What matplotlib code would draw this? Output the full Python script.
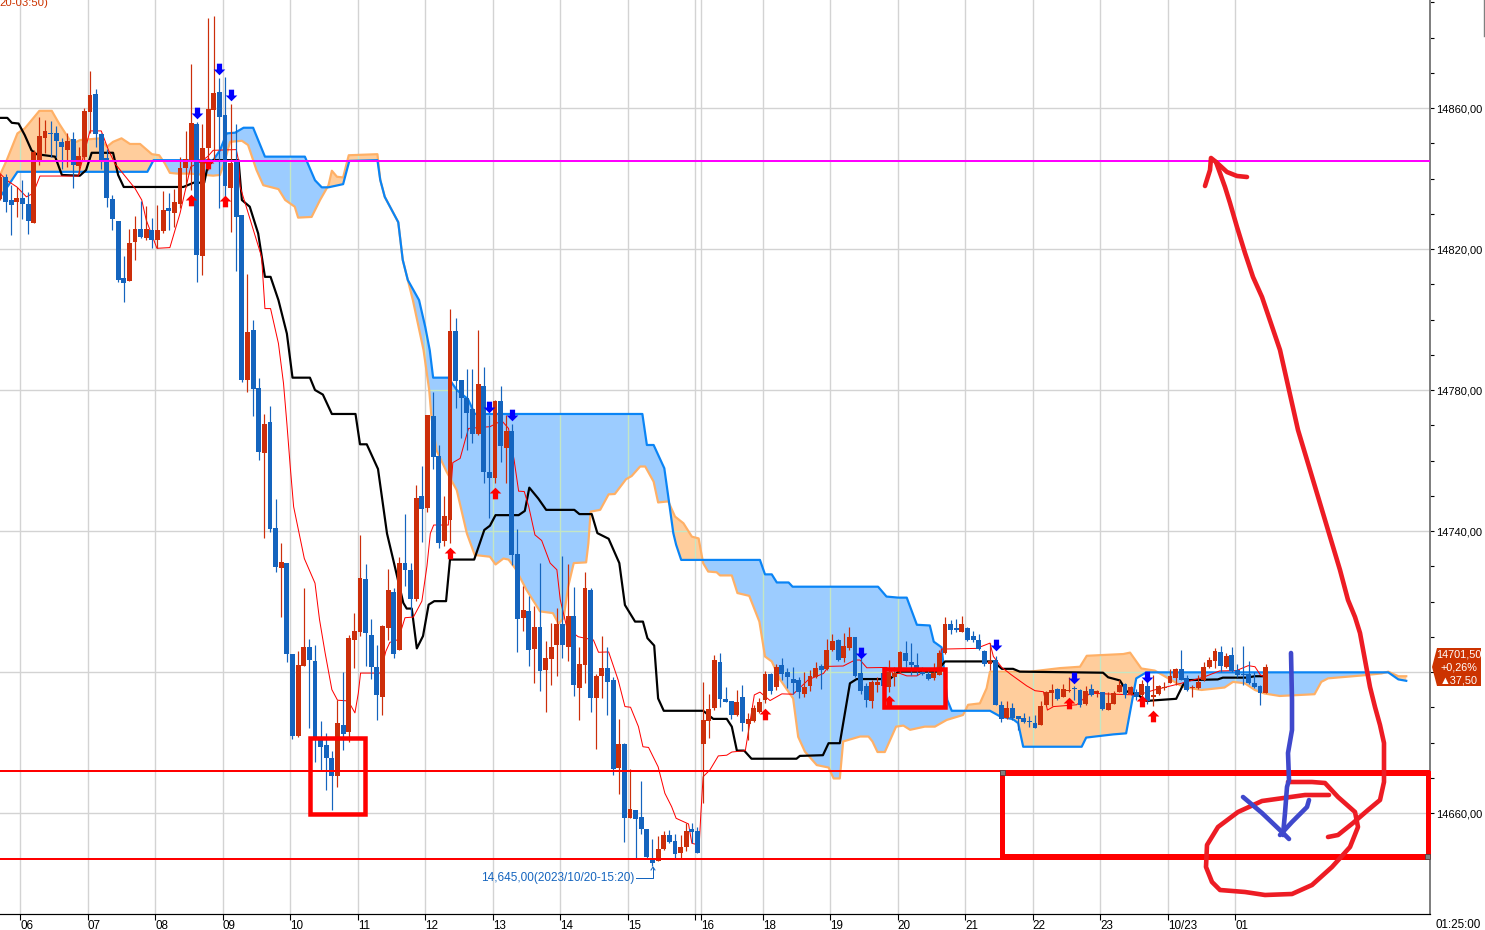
#!/usr/bin/env python3
"""5-min futures chart with ichimoku cloud and hand-drawn notes on top."""

import matplotlib
matplotlib.use("Agg")
import matplotlib.pyplot as plt
import numpy as np
from matplotlib.path import Path
from matplotlib.patches import Polygon, Rectangle

plt.rcParams["font.family"] = ["Liberation Sans", "DejaVu Sans"]

BASE = 14000  # all price lists below are offsets from this

direction = ("RBBRBBRRRB" "BBRBRRRBBB" "BBBRRBRBRR" "BRRRRBRRRB" "BRBBRBBRBB"
             "RBBRRBBBBB" "RBRRRBBBRR" "BRBBRBRBBR" "RBBBBRBBRB" "RBBRBRBRRR"
             "BRBRRBRRBB" "RBRBBBBRRB" "BRRBBRRRBB" "BRBRRRRBRB" "BBBRRRBRRB"
             "RRBBBRRBRR" "RBBBBBRRRB" "BRBBBBRBBR" "BBBBBRRRBR" "RBBRBRBRRR"
             "BRBRBRRRRR" "BBRRRRRBRB" "BBBBBR")

body_top = [
    840.5, 840.5, 833.9, 834.4, 834.4, 832.7, 847.6, 852.0, 853.4, 852.8,
    852.8, 850.3, 850.6, 851.2, 846.3, 859.1, 863.6, 863.9, 852.6, 845.7,
    834.1, 827.9, 811.9, 821.7, 825.6, 825.6, 825.8, 825.4, 825.4, 831.0,
    831.6, 833.3, 843.0, 845.4, 855.7, 855.4, 848.6, 859.7, 864.2, 864.5,
    858.0, 844.4, 844.6, 829.6, 796.5, 797.0, 780.7, 770.3, 770.9, 740.8,
    731.2, 730.9, 705.2, 702.1, 707.2, 707.2, 703.0, 680.8, 679.4, 675.7,
    685.4, 685.1, 709.7, 711.5, 726.8, 726.5, 710.6, 701.3, 713.0, 723.4,
    722.8, 731.0, 730.8, 728.9, 749.3, 749.9, 772.9, 772.6, 761.2, 744.2,
    796.7, 796.7, 782.8, 777.8, 774.6, 781.7, 781.1, 756.6, 776.8, 776.8,
    768.3, 768.3, 733.4, 717.7, 717.2, 712.9, 712.9, 704.0, 707.2, 713.5,
    713.7, 715.8, 715.8, 702.4, 723.7, 723.4, 699.0, 701.0, 701.2, 697.7,
    679.6, 679.6, 661.1, 660.8, 658.8, 655.4, 646.8, 649.8, 653.7, 653.7,
    652.1, 650.3, 654.9, 655.4, 654.9, 686.4, 689.5, 703.4, 702.8, 692.3,
    691.8, 691.5, 692.9, 686.7, 689.8, 691.5, 699.4, 699.4, 701.4, 702.0,
    700.0, 698.0, 697.7, 695.7, 698.9, 701.1, 701.7, 706.2, 708.8, 709.1,
    707.4, 709.9, 709.9, 699.6, 696.1, 697.2, 697.2, 699.6, 700.0, 699.6,
    705.7, 705.4, 702.9, 702.0, 700.0, 699.5, 699.7, 705.4, 713.6, 713.6,
    712.4, 713.6, 712.5, 710.2, 709.1, 706.0, 703.1, 703.4, 690.7, 689.8,
    689.8, 687.5, 686.9, 686.0, 685.6, 690.4, 694.4, 694.9, 695.2, 695.2,
    694.9, 695.3, 694.9, 694.6, 695.2, 694.6, 694.4, 691.2, 694.1, 696.3,
    696.6, 695.8, 694.4, 696.5, 696.0, 693.6, 696.0, 695.7, 698.8, 700.8,
    700.8, 698.2, 695.7, 697.1, 701.4, 703.4, 705.9, 705.6, 704.5, 704.8,
    700.5, 699.4, 699.4, 696.9, 696.0, 701.4]

body_bottom = [
    834.1, 833.4, 832.4, 833.3, 832.7, 827.9, 827.5, 845.0, 851.5, 852.6,
    850.6, 848.9, 848.1, 843.8, 843.5, 846.0, 858.9, 852.6, 845.2, 834.4,
    828.6, 811.2, 810.4, 810.9, 822.0, 823.4, 823.2, 822.5, 822.5, 825.1,
    830.7, 830.3, 832.7, 843.0, 845.2, 818.3, 818.0, 848.6, 859.5, 857.5,
    837.9, 837.4, 829.1, 782.8, 782.8, 780.3, 762.5, 762.2, 740.5, 729.9,
    729.6, 705.0, 681.8, 681.8, 701.6, 703.3, 680.8, 678.7, 675.7, 670.6,
    670.6, 682.5, 682.9, 709.2, 711.3, 711.1, 701.4, 693.4, 692.8, 712.6,
    705.2, 706.2, 728.9, 720.8, 720.8, 746.2, 746.6, 761.1, 736.7, 737.1,
    743.1, 782.5, 777.8, 773.5, 767.5, 767.5, 756.8, 755.1, 755.1, 764.2,
    763.6, 733.2, 714.9, 715.2, 706.2, 706.4, 700.2, 700.7, 703.8, 707.8,
    707.6, 707.2, 696.2, 695.6, 702.1, 692.5, 692.5, 698.8, 697.1, 672.5,
    672.9, 658.5, 658.7, 658.3, 655.4, 647.5, 645.9, 646.5, 649.8, 651.8,
    648.4, 648.6, 650.3, 654.7, 648.6, 679.6, 686.1, 689.8, 692.3, 691.5,
    687.8, 687.8, 685.5, 685.2, 686.1, 688.6, 692.0, 694.7, 695.7, 699.4,
    698.6, 696.9, 694.3, 693.7, 696.0, 698.6, 700.6, 700.8, 706.2, 703.4,
    704.0, 706.8, 698.9, 694.6, 692.1, 691.8, 696.3, 696.1, 695.7, 698.7,
    701.1, 703.1, 702.0, 700.3, 699.5, 698.0, 698.3, 699.2, 705.4, 711.9,
    711.9, 711.4, 709.1, 709.1, 706.5, 702.3, 702.3, 690.7, 686.6, 686.9,
    686.9, 686.8, 685.8, 685.7, 684.1, 685.0, 690.7, 694.1, 692.4, 692.9,
    694.7, 695.1, 690.7, 691.0, 693.5, 694.0, 689.5, 689.2, 691.0, 694.4,
    693.5, 693.8, 693.0, 693.5, 691.8, 693.0, 693.7, 695.4, 696.9, 698.2,
    697.7, 694.9, 695.4, 695.4, 697.7, 701.4, 703.1, 701.7, 701.4, 700.3,
    699.1, 699.2, 696.9, 695.7, 694.0, 694.0]

highs = [
    841.4, 841.4, 838.1, 837.6, 839.5, 836.2, 848.0, 857.5, 856.7, 856.4,
    854.9, 851.6, 852.8, 853.2, 849.0, 859.9, 870.5, 865.4, 852.8, 848.5,
    835.3, 827.9, 818.0, 825.8, 829.3, 833.6, 832.2, 828.7, 832.4, 836.5,
    836.0, 836.9, 846.0, 853.5, 872.4, 856.1, 855.6, 885.4, 886.1, 868.5,
    868.8, 861.1, 855.6, 829.6, 812.9, 799.8, 783.3, 773.3, 775.4, 749.2,
    736.5, 730.9, 705.2, 706.1, 723.7, 709.5, 707.8, 686.2, 682.7, 677.7,
    692.2, 700.0, 710.6, 716.6, 738.8, 730.5, 715.1, 707.8, 713.3, 729.3,
    723.9, 732.5, 744.8, 730.8, 753.0, 758.4, 772.9, 779.5, 764.4, 749.9,
    803.1, 800.3, 782.8, 786.1, 786.1, 797.0, 786.6, 772.9, 777.3, 781.1,
    772.9, 770.3, 740.5, 724.3, 721.5, 718.7, 730.8, 708.9, 713.9, 718.2,
    732.9, 730.5, 724.1, 707.1, 728.4, 723.9, 699.5, 710.3, 707.1, 698.7,
    686.8, 680.0, 672.4, 660.8, 669.2, 655.4, 652.5, 653.5, 654.9, 655.2,
    654.0, 653.7, 657.1, 657.1, 655.9, 697.2, 693.9, 704.8, 705.3, 695.8,
    691.8, 694.9, 696.3, 688.3, 690.6, 692.5, 700.4, 699.6, 702.4, 704.1,
    701.0, 701.5, 698.7, 700.1, 700.6, 702.9, 702.4, 709.5, 710.8, 709.5,
    711.0, 712.8, 709.9, 703.9, 697.0, 697.6, 698.7, 700.6, 703.4, 701.5,
    706.1, 708.8, 708.2, 705.3, 701.5, 700.6, 702.5, 706.3, 715.7, 714.8,
    715.0, 715.9, 712.9, 711.5, 710.8, 706.3, 708.2, 704.4, 691.9, 691.9,
    691.3, 687.5, 688.3, 687.4, 687.8, 691.8, 694.7, 696.6, 695.4, 696.6,
    698.5, 696.1, 695.1, 695.9, 696.6, 694.9, 694.4, 694.4, 694.5, 697.6,
    697.0, 696.1, 695.1, 697.7, 698.7, 699.1, 696.3, 697.2, 700.8, 701.0,
    706.2, 699.1, 696.3, 699.1, 702.9, 704.3, 706.9, 707.4, 705.3, 707.2,
    702.3, 707.4, 703.1, 700.1, 696.3, 702.2]

lows = [
    833.9, 830.6, 823.9, 829.1, 828.4, 824.2, 827.5, 843.8, 847.1, 846.2,
    846.0, 842.8, 843.3, 837.4, 841.4, 845.2, 852.8, 849.0, 842.8, 831.8,
    825.4, 810.7, 805.0, 810.9, 816.8, 823.0, 822.5, 820.2, 820.2, 824.4,
    825.4, 826.3, 831.5, 837.6, 836.7, 810.7, 812.6, 842.4, 845.2, 831.6,
    834.8, 824.9, 813.8, 782.3, 779.5, 772.7, 760.1, 738.1, 739.8, 728.4,
    715.6, 702.8, 681.0, 681.5, 701.6, 684.0, 674.5, 672.3, 666.5, 660.8,
    667.3, 677.8, 680.1, 701.0, 710.3, 701.6, 697.9, 686.3, 687.9, 709.2,
    704.0, 706.2, 724.3, 716.0, 720.1, 737.0, 745.5, 757.7, 735.1, 735.7,
    736.7, 774.8, 766.3, 763.1, 765.0, 767.2, 753.5, 743.8, 753.7, 759.6,
    753.7, 730.3, 705.6, 711.6, 701.8, 696.9, 694.5, 688.6, 696.2, 698.8,
    703.9, 703.1, 693.3, 686.5, 696.9, 688.6, 678.3, 692.5, 687.9, 670.8,
    665.4, 651.9, 658.5, 647.1, 654.0, 647.1, 645.0, 646.5, 649.5, 651.4,
    647.1, 647.1, 649.2, 651.4, 648.6, 662.7, 681.4, 689.2, 690.1, 691.5,
    686.8, 687.5, 683.2, 680.7, 685.9, 688.3, 691.1, 693.7, 694.9, 697.7,
    695.4, 693.9, 692.7, 693.0, 694.6, 698.2, 695.1, 700.6, 705.9, 703.1,
    702.9, 706.2, 698.7, 693.9, 690.0, 689.9, 694.2, 694.0, 694.4, 696.1,
    699.6, 701.5, 699.2, 699.2, 699.2, 697.6, 697.8, 699.2, 705.1, 710.8,
    711.4, 711.4, 708.9, 708.6, 706.3, 701.7, 700.6, 690.5, 685.7, 686.6,
    686.4, 683.6, 685.5, 684.3, 684.0, 685.0, 690.4, 690.4, 692.1, 692.8,
    694.4, 692.1, 690.2, 690.7, 693.2, 692.8, 689.1, 689.1, 690.9, 694.2,
    692.5, 693.5, 692.1, 692.0, 690.9, 690.3, 693.6, 695.0, 696.8, 696.3,
    697.7, 694.7, 693.0, 695.3, 697.5, 701.1, 701.0, 700.1, 701.1, 700.0,
    698.7, 696.3, 696.6, 695.6, 690.6, 694.0]

# ichimoku lines, read as (bar index, price offset) knots
senkou_b_x = [0, 1.3, 3.1, 26.2, 27.3, 37.9, 39.1, 40.3, 41.8, 43.3, 45, 47.1,
              54.2, 56, 57.2, 58.4, 61, 62.1, 67.1, 67.6, 68.4, 70.8, 71.6,
              72.5, 74.5, 75.6, 76.4, 77, 79.7, 81.2, 83.2, 84.4, 114.2, 115,
              116.2, 118.1, 118.8, 119.7, 120.2, 121.1, 135.1, 136, 137.2,
              138.1, 140.2, 140.9, 156.1, 157.6, 159.7, 161.2, 163, 165.3,
              166, 167.4, 168.4, 169.2, 176, 177.8, 180.1, 181, 181.9, 192.3,
              193.1, 197.9, 200.2, 202, 203.8, 246.8, 248.6, 250]
senkou_b = [834.8, 837.6, 841.9, 841.9, 845.2, 845.2, 848.0, 852.8, 853.0,
            854.4, 854.4, 846.2, 846.2, 839.5, 837.5, 837.5, 838.4, 845.0,
            845.2, 839.6, 834.8, 827.6, 816.9, 811.2, 805.5, 797.9, 791.3,
            783.5, 783.5, 780.0, 777.4, 773.2, 773.2, 764.4, 764.4, 757.8,
            749.8, 739.4, 736.1, 731.8, 731.8, 727.7, 727.7, 725.4, 725.4,
            724.2, 724.2, 721.4, 721.1, 721.1, 713.4, 713.2, 708.6, 707.0,
            692.1, 689.0, 689.0, 687.4, 686.6, 685.5, 678.8, 678.8, 681.4,
            682.3, 682.6, 698.2, 699.9, 699.9, 697.9, 697.5]

senkou_a_x = [0, 1.2, 3.1, 4.4, 7, 9.2, 10.5, 12.4, 13.6, 14.2, 17.8, 19, 20.1,
              21.6, 23.1, 24.9, 27, 28.3, 29.3, 30.2, 31.4, 33.8, 37.9, 39.1,
              40, 40.9, 43, 44.1, 45.6, 46.8, 49.5, 50.7, 52.4, 53, 55.4, 56.9,
              58.4, 59, 59.9, 61, 62, 67.1, 67.6, 68.4, 70.8, 71.6, 72.5, 73.4,
              75.3, 76.3, 76.7, 77.6, 79.4, 81.2, 83, 84.4, 87.1, 88.1, 89.5,
              90.4, 91.6, 93.6, 96, 98.3, 99.3, 100.2, 101, 102, 104.2, 104.6,
              105, 106.7, 108.2, 109.3, 111.3, 112.3, 113.8, 114.7, 116.2, 117,
              118.8, 120, 121.5, 123, 124.2, 125, 125.9, 127.4, 128, 130.1,
              131.1, 133.2, 135, 136, 137.2, 138.7, 141, 141.9, 143.1, 145.2,
              147.3, 148.2, 149.3, 149.9, 152.9, 154.4, 155.1, 156, 157.3,
              159.3, 160.6, 161.8, 164.4, 166.2, 168.3, 171.2, 172.1, 174.2,
              175.4, 176, 183.1, 188.4, 192, 193.2, 199.7, 200.9, 202.9, 205.3,
              207.7, 210.3, 213.6, 217.7, 219.2, 221.3, 223.1, 224.8, 227.5,
              233.7, 234.9, 236.1, 242, 245.6, 246.8, 248.6, 250]
senkou_a = [841.0, 845.2, 852.8, 854.2, 859.2, 859.2, 855.6, 850.9, 850.4,
            850.9, 851.4, 849.0, 850.4, 851.4, 849.8, 849.8, 846.9, 846.6,
            844.3, 841.6, 841.4, 841.4, 840.8, 841.0, 845.2, 850.4, 850.7,
            849.5, 842.4, 838.1, 837.0, 833.9, 832.0, 828.9, 829.1, 833.9,
            838.1, 842.2, 840.5, 840.3, 846.6, 846.9, 839.6, 834.8, 827.6,
            816.9, 811.2, 805.5, 791.3, 780.0, 772.4, 762.9, 756.8, 751.6,
            739.3, 733.2, 732.7, 730.5, 732.2, 731.9, 729.4, 723.3, 717.2,
            716.7, 713.7, 715.3, 724.2, 730.9, 731.1, 736.5, 745.5, 746.0,
            750.4, 750.5, 754.7, 755.6, 758.3, 758.3, 754.0, 748.1, 748.4,
            744.1, 742.2, 738.4, 737.9, 730.9, 728.5, 728.3, 727.4, 727.4,
            722.4, 721.6, 714.3, 704.4, 703.0, 697.8, 692.5, 681.6, 677.4,
            673.6, 672.9, 669.8, 669.8, 680.3, 681.7, 681.7, 680.3, 677.3,
            677.3, 684.5, 684.8, 683.6, 684.5, 684.5, 686.4, 687.8, 690.7,
            691.1, 695.4, 700.1, 700.1, 701.1, 701.5, 704.6, 705.1, 705.5,
            701.0, 700.4, 698.2, 695.8, 694.9, 695.6, 697.2, 696.8, 694.9,
            693.9, 693.2, 693.7, 697.2, 698.2, 699.0, 699.6, 700.1, 698.8,
            698.8]

kijun_x = [0, 1.3, 2.1, 3.3, 4.4, 5.6, 6.5, 9.8, 11, 14.2, 15.3, 16.3, 20.1, 21,
           22, 32.6, 34.4, 36.3, 36.9, 37.9, 42.4, 43, 44.4, 45.9, 47.1, 48.1,
           49.5, 51, 52, 55.1, 56, 57.4, 59, 63.2, 64, 65.2, 67.2, 68.8, 69.9,
           71.7, 72.3, 73.2, 74.1, 75.2, 76.2, 77.2, 79.3, 80, 84.3, 86.1,
           87.1, 88.1, 92.2, 93.3, 94.1, 95.7, 97.1, 102.1, 103, 105.2, 106.2,
           108.2, 110.1, 111.1, 112.9, 114.3, 115.1, 116.3, 117, 118, 125,
           126.8, 129.2, 130.1, 131, 132.3, 133.6, 141.6, 142.2, 146.3, 147.3,
           149.3, 151.1, 152.3, 158.2, 159.7, 166.5, 168, 176.6, 178.1, 180.1,
           181.3, 196.1, 197, 199.1, 200.3, 202.3, 203.8, 209.1, 210.3, 211.2,
           216.5, 217.4, 221.6, 223.1, 224.8]
kijun = [857.2, 857.2, 855.8, 855.6, 852.3, 848.0, 846.9, 846.2, 841.0, 840.8,
         842.4, 847.3, 847.3, 841.0, 837.6, 837.6, 838.8, 838.8, 843.3, 845.2,
         845.2, 833.9, 832.0, 824.4, 812.1, 812.1, 805.5, 796.0, 783.5, 783.5,
         780.0, 778.7, 773.2, 773.2, 764.6, 764.6, 757.6, 739.3, 731.9, 719.6,
         718.0, 718.0, 706.7, 710.2, 719.1, 720.1, 720.1, 731.9, 731.9, 740.3,
         741.5, 744.5, 744.5, 745.7, 752.3, 749.2, 746.0, 746.0, 744.8, 744.8,
         739.4, 737.8, 730.9, 719.0, 714.3, 714.3, 709.6, 707.5, 692.5, 689.0,
         689.0, 686.7, 686.7, 684.5, 677.7, 677.7, 675.4, 675.4, 676.2, 676.4,
         679.8, 679.8, 696.8, 698.0, 698.0, 700.1, 700.1, 703.0, 703.0, 700.9,
         700.9, 700.1, 699.8, 698.5, 697.6, 694.5, 693.5, 691.8, 692.4, 696.3,
         697.7, 697.9, 698.4, 698.4, 698.8, 698.8]

tenkan_x = [0, 1.2, 3, 4.7, 5.9, 7.1, 13.9, 16, 18, 19.3, 20.4, 24, 25.2, 26,
            27.9, 30.2, 32, 33.9, 35.6, 36.9, 37.9, 42, 42.4, 42.7, 46.5, 47.1,
            48.1, 49.5, 50.4, 51, 51.6, 52.2, 54.1, 56, 56.8, 57.8, 59, 60,
            61.9, 63.1, 63.7, 64.1, 67.6, 68.6, 69.3, 70.8, 72, 73.5, 75, 75.9,
            76.5, 77.1, 79.7, 80.5, 81.8, 82.7, 83.3, 87.1, 89.2, 90.4, 91.4,
            92.2, 93.2, 94, 95.1, 96.3, 97.8, 99, 99.6, 100.8, 102.8, 105.5,
            106.4, 108.2, 109.9, 111.1, 112.1, 113.5, 114.3, 115.3, 117, 118.2,
            119.4, 120.2, 122.4, 123, 124.3, 124.6, 125, 126.2, 127.7, 129.2,
            130.1, 132.5, 133.2, 134.1, 135.1, 136.9, 139, 141, 143.7, 146.4,
            147.3, 149.9, 152, 152.9, 154.1, 157.6, 158.8, 160, 161.2, 163,
            164.7, 166.5, 167.4, 170.7, 173.6, 176, 176.6, 178.1, 179.8, 182.5,
            184, 185.5, 186.2, 187.3, 191.4, 193.8, 197.9, 202.3, 205.2, 210,
            213.9, 216.8, 219.8, 221.9, 223.1, 224.1, 225]
tenkan = [841.4, 839.5, 837.6, 834.8, 835.8, 840.7, 840.7, 853.5, 853.5, 848.0,
          844.3, 837.2, 833.9, 828.2, 820.2, 820.4, 830.1, 843.3, 844.7, 846.2,
          848.0, 848.2, 845.2, 837.6, 817.8, 803.1, 803.1, 793.2, 781.9, 770.5,
          758.2, 746.9, 732.2, 725.2, 714.9, 705.4, 695.0, 692.0, 691.8, 688.4,
          694.0, 699.7, 699.7, 705.9, 708.4, 709.2, 715.4, 715.6, 720.1, 730.0,
          739.3, 741.7, 741.7, 759.4, 760.6, 765.8, 769.1, 769.6, 771.3, 769.1,
          760.1, 751.3, 751.2, 746.9, 738.9, 737.3, 730.9, 729.0, 720.5, 712.4,
          710.0, 709.1, 705.6, 705.7, 697.7, 690.2, 690.0, 684.5, 678.8, 678.6,
          673.1, 665.6, 661.8, 658.5, 656.9, 651.4, 650.9, 659.9, 670.3, 672.2,
          676.2, 676.4, 677.3, 677.7, 684.5, 693.5, 694.3, 691.9, 693.8, 693.7,
          697.8, 699.6, 701.6, 701.7, 703.4, 703.4, 701.2, 701.3, 699.6, 699.6,
          698.9, 698.9, 700.6, 700.6, 706.5, 706.6, 706.7, 708.2, 704.4, 701.3,
          699.2, 696.1, 694.7, 694.4, 689.2, 690.2, 690.7, 694.0, 693.7, 693.5,
          694.9, 696.8, 698.5, 700.3, 700.4, 701.8, 701.5, 699.1, 698.5]

# signal arrows
up_bars = [34, 37, 40, 80, 88, 136, 158, 190, 203, 205]
up_prices = [833.9, 844.4, 833.7, 733.8, 750.9, 688.2, 691.7, 691.3, 691.9, 687.5]
down_bars = [35, 39, 41, 87, 91, 153, 177, 191, 204]
down_prices = [858.7, 871.2, 863.8, 775.3, 773.0, 705.5, 707.7, 698.4, 698.5]

grid_bars = [3.6, 15.6, 27.6, 39.6, 51.6, 63.6, 75.6, 87.6, 99.6, 111.6, 123.6,
             124.6, 135.6, 147.6, 159.6, 171.6, 183.6, 195.6, 207.6, 219.6]
tick_labels = ["06", "07", "08", "09", "10", "11", "12", "13", "14", "15", "",
               "16", "18", "19", "20", "21", "22", "23", "10/23", "01"]
price_ticks = list(range(14660, 14900, 10))
price_grid = [14660, 14700, 14740, 14780, 14820, 14860]
price_labels = [14660, 14740, 14780, 14820, 14860]  # 14700 sits under the badge

resistance = 14845.0
support_hi = 14671.9
support_lo = 14647.0

# hand-drawn notes, in screen pixels
red_curve_x = [1328, 1338, 1353, 1368, 1380, 1384, 1384, 1380, 1375, 1370, 1365,
               1360, 1355, 1348, 1340, 1325, 1298, 1280, 1262, 1253, 1245, 1237,
               1230, 1225, 1216]
red_curve_y = [837, 835, 823, 810, 800, 782, 743, 725, 707, 687, 660, 633, 617,
               600, 570, 520, 430, 350, 297, 277, 253, 227, 203, 187, 162]
red_head_x = [1205, 1210, 1211, 1216, 1227, 1237, 1247]
red_head_y = [186, 170, 158, 162, 172, 176, 177]
red_circle_x = [1329, 1305, 1262, 1238, 1218, 1207, 1206, 1212, 1220, 1245, 1265,
                1292, 1312, 1332, 1350, 1358, 1355, 1338, 1325, 1312, 1288]
red_circle_y = [795, 795, 801, 812, 827, 845, 867, 882, 890, 892, 895, 894, 885,
                867, 847, 827, 812, 797, 783, 782, 782]
blue_stem_x = [1291, 1292, 1292, 1288, 1289, 1287, 1285, 1283]
blue_stem_y = [653, 700, 730, 753, 780, 787, 813, 835]
blue_left_x = [1243, 1262, 1283, 1289]
blue_left_y = [797, 813, 833, 839]
blue_right_x = [1280, 1292, 1307, 1309]
blue_right_y = [835, 822, 807, 800]

UP_RED = "#CC2E0A"
DOWN_BLUE = "#1464BE"
CLOUD_BLUE = "#9CCCFF"
CLOUD_ORANGE = "#FFCD9C"
LINE_BLUE = "#0A84F5"
LINE_ORANGE = "#FFB066"
GRID = "#D3D3D3"
PX = 0.72  # points per pixel at dpi=100

fig = plt.figure(figsize=(14.85, 9.3), dpi=100)
ax = fig.add_axes([0, 16 / 930, 1430 / 1485, 914 / 930])
ax.set_xlim(0, 1430 / 5.625)
ax.set_ylim(14631.35, 14890.64)

for p in price_grid:
    ax.axhline(p, color=GRID, lw=1.4 * PX, zorder=1)
for b in grid_bars:
    ax.axvline(b, color=GRID, lw=1.4 * PX, zorder=1)

# cloud
xs = np.arange(0, 250.05, 0.05)
sa = np.interp(xs, senkou_a_x, senkou_a) + BASE
sb = np.interp(xs, senkou_b_x, senkou_b) + BASE
fill_b = ax.fill_between(xs, sa, sb, where=sb >= sa, color=CLOUD_BLUE, lw=0, zorder=2)
fill_a = ax.fill_between(xs, sa, sb, where=sa >= sb, color=CLOUD_ORANGE, lw=0, zorder=2)
cloud_path = Path.make_compound_path(*fill_b.get_paths(), *fill_a.get_paths())
for b in grid_bars:
    ln = ax.axvline(b, color="#C4E6C4", lw=1.4 * PX, zorder=2.5)
    ln.set_clip_path(cloud_path, ax.transData)
for p in price_grid:
    ln = ax.axhline(p, color="#C4E6C4", lw=1.4 * PX, zorder=2.5)
    ln.set_clip_path(cloud_path, ax.transData)

ax.plot(senkou_a_x, np.array(senkou_a) + BASE, color=LINE_ORANGE, lw=2.2 * PX, zorder=3)
ax.plot(senkou_b_x, np.array(senkou_b) + BASE, color=LINE_BLUE, lw=2.2 * PX, zorder=3.1)
ax.plot(kijun_x, np.array(kijun) + BASE, color="black", lw=2.2 * PX, zorder=3.2)
ax.plot(tenkan_x, np.array(tenkan) + BASE, color="#FF0000", lw=1.0 * PX, zorder=3.3)

# candles
bars = np.arange(len(body_top))
top = np.array(body_top) + BASE
bot = np.array(body_bottom) + BASE
colors = [UP_RED if d == "R" else DOWN_BLUE for d in direction]
ax.vlines(bars, np.array(lows) + BASE, np.array(highs) + BASE, colors=colors,
          lw=1.2 * PX, zorder=4)
ax.bar(bars, np.maximum(top - bot, 0.3), bottom=bot, width=0.88, color=colors,
       lw=0, zorder=4.1)

# signal arrows
arrow_up = Path([(0, 1), (1, 0), (0.45, 0), (0.45, -1), (-0.45, -1), (-0.45, 0),
                 (-1, 0), (0, 1)], closed=True)
arrow_down = Path([(0, -1), (1, 0), (0.45, 0), (0.45, 1), (-0.45, 1), (-0.45, 0),
                   (-1, 0), (0, -1)], closed=True)
ax.scatter(up_bars, np.array(up_prices) + BASE, marker=arrow_up, s=70, color="#FF0000",
           lw=0, zorder=5)
ax.scatter(down_bars, np.array(down_prices) + BASE, marker=arrow_down, s=70,
           color="#0000FF", lw=0, zorder=5)

# levels
ax.axhline(resistance, color="#FF00FF", lw=2 * PX, zorder=6)
ax.axhline(support_hi, color="#FF0000", lw=2 * PX, zorder=6)
ax.axhline(support_lo, color="#FF0000", lw=2 * PX, zorder=6)

# axes furniture
for name in ("top", "left"):
    ax.spines[name].set_visible(False)
ax.spines["bottom"].set_color("black")
ax.spines["bottom"].set_linewidth(1.2 * PX)
ax.spines["right"].set_color("#808080")
ax.spines["right"].set_linewidth(2 * PX)
ax.yaxis.tick_right()
ax.set_yticks(price_ticks)
ax.set_yticklabels([f"{p},00" if p in price_labels else "" for p in price_ticks],
                   fontsize=8.0)
ax.tick_params(axis="y", length=3, width=0.8, pad=1.5, color="black")
ax.set_xticks(grid_bars)
ax.set_xticklabels(tick_labels, fontsize=8.4)
ax.tick_params(axis="x", length=4, width=0.8, pad=0.5)
for lbl in ax.get_xticklabels():
    lbl.set_ha("left")

# overlay in screen pixels for the drawn notes and the price badge
ov = fig.add_axes([0, 0, 1, 1])
ov.set_xlim(0, 1485)
ov.set_ylim(930, 0)
ov.axis("off")
ov.patch.set_visible(False)

BOX = "#FF0000"
ov.add_patch(Rectangle((310.3, 738.3), 55, 75.4, fill=False, ec=BOX, lw=4.5 * PX,
                       joinstyle="miter"))
ov.add_patch(Rectangle((884, 669), 60.5, 37.5, fill=False, ec=BOX, lw=4.5 * PX,
                       joinstyle="miter"))
ov.add_patch(Rectangle((1002.3, 772.7), 425.4, 83.3, fill=False, ec=BOX, lw=5 * PX,
                       joinstyle="miter"))
for hx, hy in ((1002, 772), (1427, 856)):
    ov.add_patch(Rectangle((hx - 2.5, hy - 2.5), 5, 5, fc="#808080", ec="#404040",
                           lw=0.5))

stroke = dict(solid_capstyle="round", solid_joinstyle="round", lw=4.6 * PX)
ov.plot(red_curve_x, red_curve_y, color="#ED1C24", **stroke)
ov.plot(red_head_x, red_head_y, color="#ED1C24", **stroke)
ov.plot(red_circle_x, red_circle_y, color="#ED1C24", **stroke)
ov.plot(blue_stem_x, blue_stem_y, color="#3F48CC", **stroke)
ov.plot(blue_left_x, blue_left_y, color="#3F48CC", **stroke)
ov.plot(blue_right_x, blue_right_y, color="#3F48CC", **stroke)

# low marker
ov.text(634, 877.5, "14,645,00(2023/10/20-15:20)", color=DOWN_BLUE, fontsize=8.5,
        ha="right", va="center")
ov.plot([636, 653, 653], [878, 878, 868], color=DOWN_BLUE, lw=1 * PX)
ov.plot([651, 653, 655], [870, 867, 870], color=DOWN_BLUE, lw=1 * PX)

ov.text(-1, 3, "20-03:50)", color="#CC3300", fontsize=8.2, ha="left", va="center")

# last price badge
ov.add_patch(Polygon([(1432, 667), (1437, 648), (1481, 648), (1481, 686), (1437, 686)],
                     closed=True, fc="#CC3300", ec="none"))
ov.text(1459, 654, "14701,50", color="white", fontsize=7.8, ha="center", va="center")
ov.text(1459, 667, "+0,26%", color="white", fontsize=7.8, ha="center", va="center")
ov.text(1459, 680, "▲37,50", color="white", fontsize=7.8, ha="center", va="center")

ov.text(1436, 925, "01:25:00", color="black", fontsize=8.4, ha="left", va="center")
ov.plot([1484, 1484], [0, 36], color="#808080", lw=1.4 * PX)

fig.savefig("out.png", dpi=100, facecolor="white")
